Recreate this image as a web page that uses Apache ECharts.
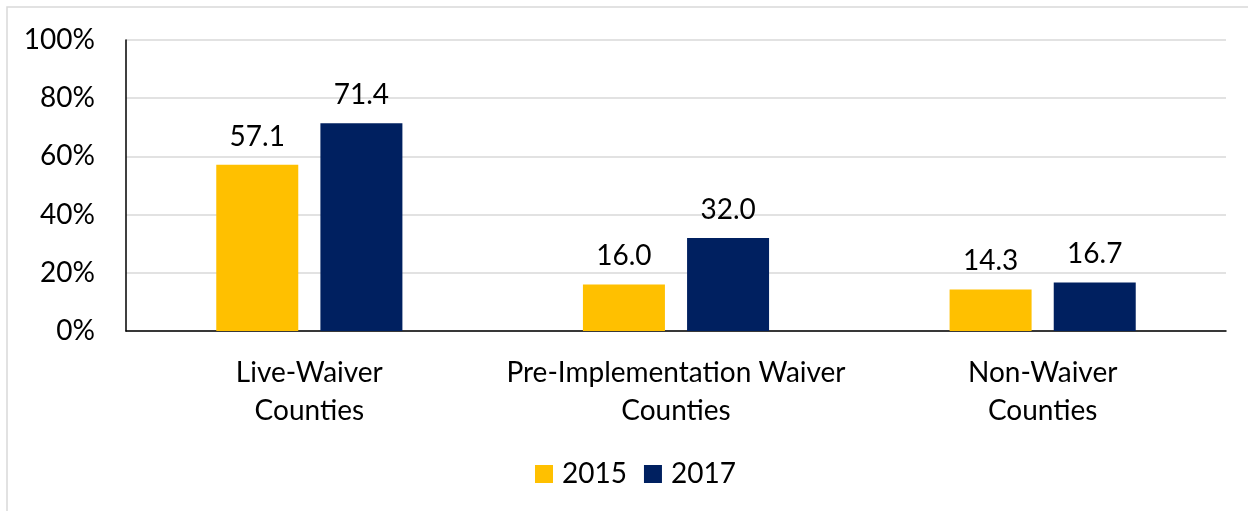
<!DOCTYPE html>
<html>
<head>
<meta charset="utf-8">
<script src="https://cdn.jsdelivr.net/npm/echarts@6/dist/echarts.min.js"></script>
<style>
    html, body { margin: 0; padding: 0; background: #fff; }
    #chart { width: 1248px; height: 511px; }
</style>
</head>
<body>
<div id="chart"></div>
<script>
// chart data
const categories = ['Live-Waiver\nCounties', 'Pre-Implementation Waiver\nCounties', 'Non-Waiver\nCounties'];
const values2015 = [57.1, 16.0, 14.3];
const values2017 = [71.4, 32.0, 16.7];
const yTicks = [0, 20, 40, 60, 80, 100];

const FONT = 'Lato';
const FS = 28;
const chart = echarts.init(document.getElementById('chart'));

const barLabel = {
    show: true,
    position: 'top',
    distance: 14,
    fontFamily: FONT,
    fontSize: FS,
    color: '#000',
    formatter: p => p.value.toFixed(1)
};

const option = {
    animation: false,
    backgroundColor: '#fff',
    textStyle: { fontFamily: FONT },
    graphic: [{
        type: 'rect',
        shape: { x: 7, y: 7, width: 1260, height: 520 },
        style: { fill: 'none', stroke: '#d9d9d9', lineWidth: 1.5 },
        silent: true
    }],
    grid: {
        left: 126,
        right: 22,
        top: 40,
        bottom: 180
    },
    legend: {
        data: ['2015', '2017'],
        top: 455,
        left: 530,
        icon: 'rect',
        itemWidth: 18,
        itemHeight: 18,
        itemGap: 17,
        textStyle: { fontFamily: FONT, fontSize: FS, color: '#000', padding: [0, 0, 0, 4] }
    },
    xAxis: {
        type: 'category',
        data: categories,
        axisLine: { lineStyle: { color: '#000', width: 1.5 } },
        axisTick: { show: false },
        axisLabel: {
            interval: 0,
            fontFamily: FONT,
            fontSize: FS,
            color: '#000',
            margin: 23,
            lineHeight: 38
        }
    },
    yAxis: {
        type: 'value',
        min: yTicks[0],
        max: yTicks[yTicks.length - 1],
        interval: 20,
        axisLine: { show: true, lineStyle: { color: '#000', width: 1.5 } },
        axisTick: { show: false },
        splitLine: { lineStyle: { color: '#d9d9d9', width: 1.5 } },
        axisLabel: {
            fontFamily: FONT,
            fontSize: FS,
            color: '#000',
            margin: 31,
            formatter: v => v + '%'
        }
    },
    series: [
        {
            name: '2015',
            type: 'bar',
            data: values2015,
            barWidth: 82,
            barGap: '27%',
            itemStyle: { color: '#FFC000' },
            label: barLabel
        },
        {
            name: '2017',
            type: 'bar',
            data: values2017,
            barWidth: 82,
            itemStyle: { color: '#002060' },
            label: barLabel
        }
    ]
};

chart.setOption(option);
</script>
</body>
</html>
